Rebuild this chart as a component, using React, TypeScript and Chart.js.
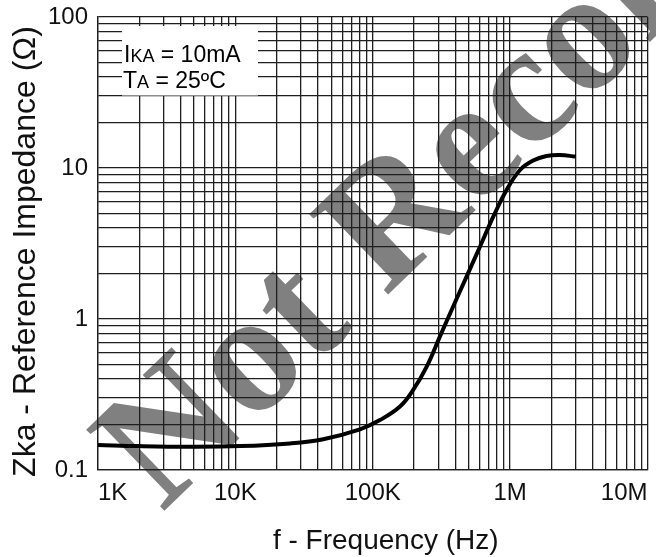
import React, { useEffect, useRef } from 'react';
import { Chart, registerables } from 'chart.js';

Chart.register(...registerables);

// ---- data ----
const frequencyHz = [
  1000, 2000, 4700, 10800, 25000, 43600, 80700, 112800, 157800, 197000,
  247000, 308000, 385000, 482000, 603000, 754000, 942000, 1180000, 1470000,
  1840000, 2300000, 3000000,
];
const impedanceOhm = [
  0.1465, 0.144, 0.1427, 0.144, 0.15, 0.16, 0.186, 0.214, 0.263, 0.339,
  0.483, 0.764, 1.21, 1.91, 3.01, 4.76, 7.15, 9.7, 11.2, 12.0, 12.2, 11.9,
];

const xDecades = [1e3, 1e4, 1e5, 1e6, 1e7];
const xTickLabels = ['1K', '10K', '100K', '1M', '10M'];
const yDecades = [0.1, 1, 10, 100];
const yTickLabels = ['0.1', '1', '10', '100'];
const minorSteps = [1, 2, 3, 4, 5, 6, 7, 8, 9];

const xTitle = 'f - Frequency (Hz)';
const yTitle = 'Zka - Reference Impedance (\u03A9)';
const watermarkText = 'Not Recommended';

const SANS = "'Liberation Sans', Arial, Helvetica, sans-serif";
const GRID = '#1e1e1e';

function gridValues(decades: number[]): number[] {
  const out: number[] = [];
  decades.forEach((d, i) => {
    if (i === decades.length - 1) {
      out.push(d);
      return;
    }
    minorSteps.forEach((m) => out.push(Number((d * m).toPrecision(8))));
  });
  return out;
}

function decadeLabel(decades: number[], labels: string[], value: number): string {
  const i = decades.findIndex((d) => Math.abs(d - value) / d < 1e-6);
  return i >= 0 ? labels[i] : '';
}

const watermarkPlugin = {
  id: 'watermark',
  beforeDraw(chart: any) {
    const ctx = chart.ctx;
    ctx.save();
    ctx.translate(162, 513);
    ctx.rotate((-44 * Math.PI) / 180);
    ctx.font = "bold 172px 'Liberation Serif', 'Times New Roman', serif";
    ctx.fillStyle = '#808080';
    ctx.textBaseline = 'alphabetic';
    ctx.textAlign = 'left';
    ctx.fillText(watermarkText, 0, 0);
    ctx.restore();
  },
};

const overlayPlugin = {
  id: 'overlay',
  afterDraw(chart: any) {
    const ctx = chart.ctx;
    const area = chart.chartArea;
    ctx.save();
    // condition box
    ctx.fillStyle = '#ffffff';
    ctx.fillRect(122, 26, 136, 69.5);
    ctx.fillStyle = '#000000';
    ctx.textBaseline = 'alphabetic';
    ctx.textAlign = 'left';
    const big = `23px ${SANS}`;
    const small = `18px ${SANS}`;
    const drawRuns = (runs: [string, string][], x: number, y: number) => {
      let cx = x;
      runs.forEach(([t, f]) => {
        ctx.font = f;
        ctx.fillText(t, cx, y);
        cx += ctx.measureText(t).width;
      });
    };
    drawRuns([['I', big], ['KA', small], [' = 10mA', big]], 124, 62);
    drawRuns([['T', big], ['A', small], [' = 25\u00BAC', big]], 123, 87.5);

    // axis titles
    ctx.fillStyle = '#111111';
    ctx.textAlign = 'center';
    ctx.textBaseline = 'alphabetic';
    ctx.font = `28px ${SANS}`;
    ctx.fillText(xTitle, (area.left + area.right) / 2 + 13, 548.5);

    ctx.save();
    ctx.translate(35, (area.top + area.bottom) / 2 + 8);
    ctx.rotate(-Math.PI / 2);
    ctx.font = `32px ${SANS}`;
    ctx.fillText(yTitle, 0, 0);
    ctx.restore();

    ctx.restore();
  },
};

export default function App() {
  const canvasRef = useRef<HTMLCanvasElement | null>(null);

  useEffect(() => {
    if (!canvasRef.current) return;
    const chart = new Chart(canvasRef.current, {
      type: 'line',
      data: {
        datasets: [
          {
            data: frequencyHz.map((f, i) => ({ x: f, y: impedanceOhm[i] })),
            borderColor: '#000000',
            borderWidth: 4,
            pointRadius: 0,
            fill: false,
            tension: 0.4,
          },
        ],
      },
      options: {
        responsive: false,
        animation: false,
        layout: { padding: { left: 0, top: 17, right: 8.5, bottom: 0 } },
        plugins: { legend: { display: false }, tooltip: { enabled: false } },
        scales: {
          x: {
            type: 'logarithmic',
            min: 1000,
            max: 1e7,
            afterBuildTicks: (scale: any) => {
              scale.ticks = gridValues(xDecades).map((v) => ({ value: v }));
            },
            afterFit: (scale: any) => {
              scale.height = 87;
              scale.paddingLeft = 0;
              scale.paddingRight = 0;
            },
            grid: { color: GRID, lineWidth: 1.3, drawTicks: false },
            border: { display: true, color: GRID, width: 1.3 },
            ticks: {
              autoSkip: false,
              maxRotation: 0,
              minRotation: 0,
              align: 'inner',
              padding: 9,
              color: '#111111',
              font: { family: SANS, size: 24 },
              callback: (v: any) => decadeLabel(xDecades, xTickLabels, Number(v)),
            },
            title: { display: false },
          },
          y: {
            type: 'logarithmic',
            min: 0.1,
            max: 100,
            afterBuildTicks: (scale: any) => {
              scale.ticks = gridValues(yDecades).map((v) => ({ value: v }));
            },
            afterFit: (scale: any) => {
              scale.width = 98;
              scale.paddingTop = 0;
              scale.paddingBottom = 0;
            },
            grid: { color: GRID, lineWidth: 1.3, drawTicks: false },
            border: { display: true, color: GRID, width: 1.3 },
            ticks: {
              autoSkip: false,
              padding: 10,
              color: '#111111',
              font: { family: SANS, size: 24 },
              callback: (v: any) => decadeLabel(yDecades, yTickLabels, Number(v)),
            },
            title: { display: false },
          },
        },
      },
      plugins: [watermarkPlugin, overlayPlugin],
    } as any);
    return () => chart.destroy();
  }, []);

  return (
    <div style={{ position: 'absolute', left: 0, top: 0, width: 656, height: 557, background: '#fff' }}>
      <canvas ref={canvasRef} width={656} height={557} style={{ display: 'block' }} />
    </div>
  );
}
